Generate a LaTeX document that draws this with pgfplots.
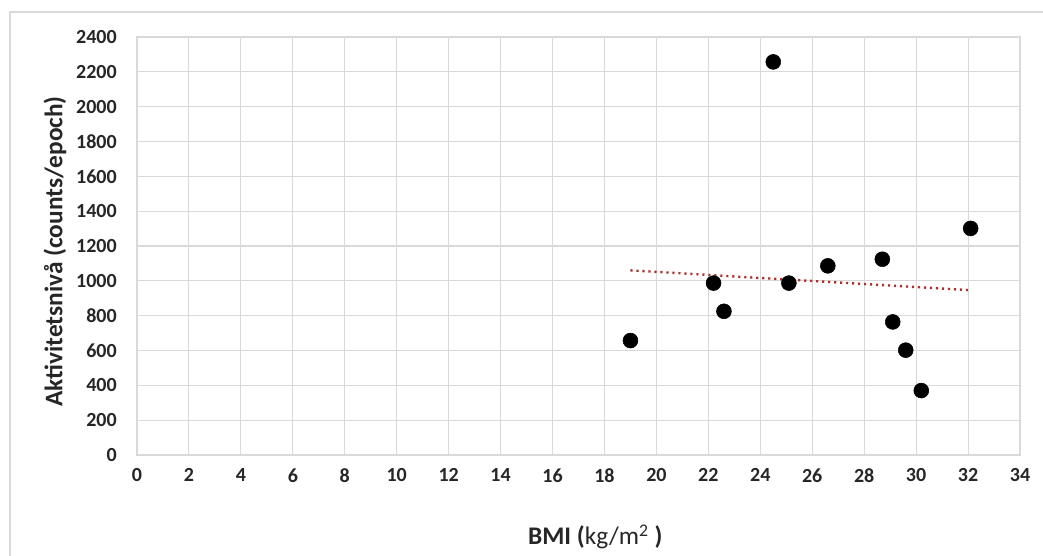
\documentclass[border=0pt]{standalone}
\usepackage{pgfplots}
\pgfplotsset{compat=1.18}
\usepackage{fontspec}
\setmainfont{Carlito}
\definecolor{gridc}{HTML}{D9D9D9}
\definecolor{framec}{HTML}{D9D9D9}
\definecolor{labc}{HTML}{262626}
\definecolor{trendc}{HTML}{A8322D}
\begin{document}
\begin{tikzpicture}
% page bounding box: 1043 x 556 px at 0.75pt per px
\path[use as bounding box] (0,0) rectangle (782.25pt,417pt);
\draw[framec, line width=1pt] (7.5pt,0pt) -- (7.5pt,408pt) -- (782.25pt,408pt);
\begin{axis}[
  at={(102.75pt,75.75pt)}, anchor=south west,
  scale only axis,
  width=662.25pt, height=313.5pt,
  xmin=0, xmax=34, ymin=0, ymax=2400,
  xtick={0,2,...,34}, ytick={0,200,...,2400},
  grid=major,
  major grid style={gridc, line width=0.8pt},
  axis line style={gridc, line width=0.8pt},
  major tick length=0pt,
  /pgf/number format/assume math mode=true,
  /pgf/number format/1000 sep={},
  tick label style={font=\fontsize{15}{18}\selectfont\bfseries, text=labc, inner sep=0pt},
  yticklabel style={anchor=east, xshift=-15pt},
  xticklabel style={anchor=north, yshift=-10pt},
  xlabel={\textbf{BMI (}kg/m\textsuperscript{2} \textbf{)}},
  ylabel={\textbf{Aktivitetsnivå (counts/epoch)}},
  label style={font=\fontsize{19}{22}\selectfont, text=labc},
  xlabel style={at={(axis description cs:0.519,-0.196)}, anchor=center},
  ylabel style={at={(axis description cs:-0.0929,0.487)}, anchor=center, rotate=0},
  clip=false,
]
\addplot[only marks, mark=*, mark size=5.6pt, mark options={fill=black, draw=black}]
  coordinates {
  (19.0,657) (22.2,987) (22.6,825) (24.5,2257) (25.1,987) (26.6,1086)
  (28.7,1124) (29.1,764) (29.6,602) (30.2,370) (32.1,1301)
  };
\addplot[trendc, line width=1.8pt, dash pattern=on 1.6pt off 2.9pt]
  coordinates {(19.0,1060) (32.1,946)};
\end{axis}
\end{tikzpicture}
\end{document}
